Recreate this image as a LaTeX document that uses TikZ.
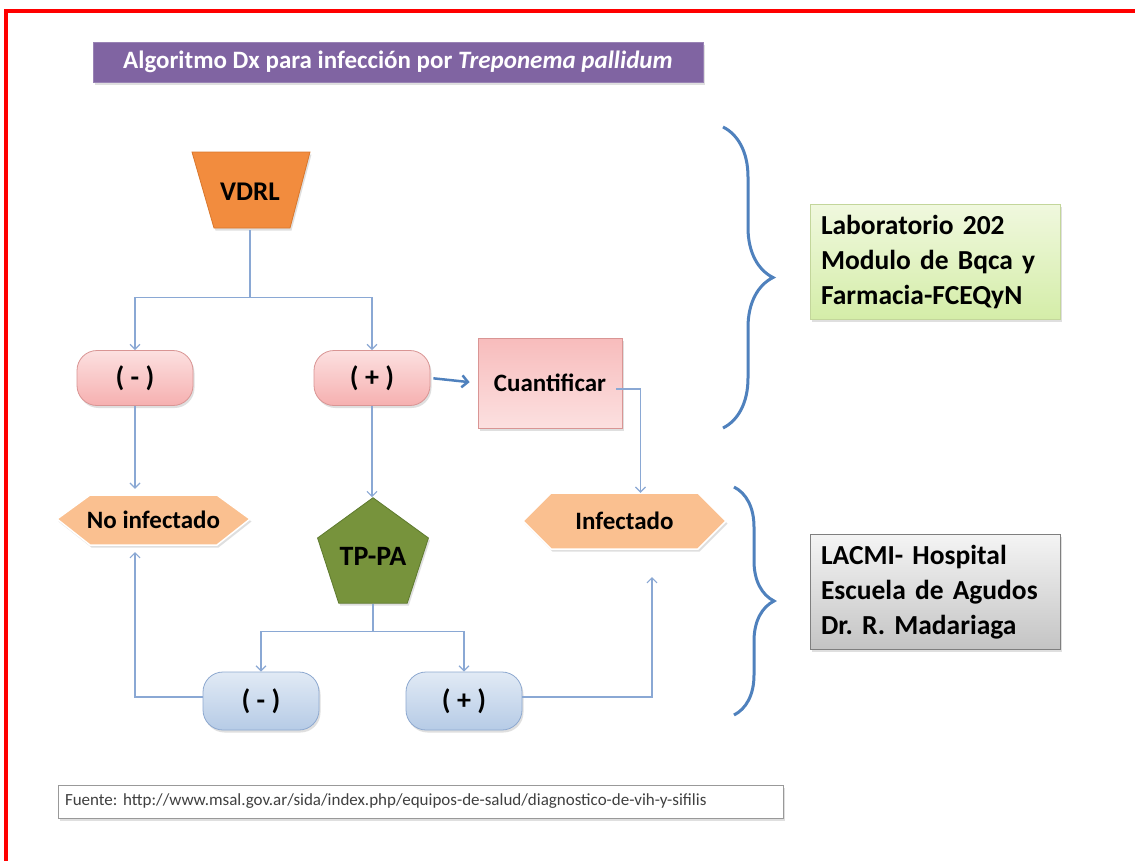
\documentclass[tikz,border=0pt]{standalone}
\usepackage{fontspec}
\setmainfont{Carlito}
\frenchspacing
\usetikzlibrary{arrows.meta,shapes.geometric,shadows,decorations.pathreplacing}
\definecolor{titlepurple}{HTML}{8064A2}
\definecolor{vdrlorange}{HTML}{F28C3E}
\definecolor{vdrlborder}{HTML}{D9772C}
\definecolor{pinktop}{HTML}{FCE0E0}
\definecolor{pinkbot}{HTML}{F6B0B0}
\definecolor{pinkborder}{HTML}{D99594}
\definecolor{peach}{HTML}{FAC090}
\definecolor{tpgreen}{HTML}{77933C}
\definecolor{tpborder}{HTML}{5E7A2E}
\definecolor{bluetop}{HTML}{E1EAF5}
\definecolor{bluebot}{HTML}{B6CBE6}
\definecolor{blueborder}{HTML}{8EA9D0}
\definecolor{conncol}{HTML}{8AA8D4}
\definecolor{bracecol}{HTML}{4F81BD}
\definecolor{labtop}{HTML}{F0F8DE}
\definecolor{labbot}{HTML}{D4EDA8}
\definecolor{labborder}{HTML}{C3D69B}
\definecolor{graytop}{HTML}{F4F4F4}
\definecolor{graybot}{HTML}{C4C4C4}
\definecolor{grayborder}{HTML}{7F7F7F}
\tikzset{
  softshadow/.style={drop shadow={opacity=0.25,shadow xshift=1.5pt,shadow yshift=-2.5pt}},
  titlebox/.style={fill=titlepurple,draw=titlepurple!80!white,line width=0.8pt,text=white,
    font=\fontsize{25}{28}\selectfont\bfseries,softshadow,inner sep=0pt},
  pinkpill/.style={top color=pinktop,bottom color=pinkbot,draw=pinkborder,line width=0.8pt,
    rounded corners=20pt,minimum width=116pt,minimum height=55pt,
    font=\fontsize{28}{30}\selectfont\bfseries,softshadow},
  bluepill/.style={top color=bluetop,bottom color=bluebot,draw=blueborder,line width=0.8pt,
    rounded corners=20pt,minimum width=116pt,minimum height=58pt,
    font=\fontsize{28}{30}\selectfont\bfseries,softshadow},
  cuantbox/.style={top color=pinkbot!85!white,bottom color=pinktop,draw=pinkborder,line width=0.8pt,
    minimum width=144pt,minimum height=90pt,font=\fontsize{25}{28}\selectfont\bfseries,softshadow},
  hexfill/.style={fill=peach,draw=white,line width=1.5pt,softshadow},
  hextext/.style={font=\fontsize{25}{28}\selectfont\bfseries,inner sep=0pt},
  vdrlshape/.style={fill=vdrlorange,draw=vdrlborder,line width=0.8pt,softshadow},
  pent/.style={regular polygon,regular polygon sides=5,minimum size=108pt,inner sep=0pt,
    fill=tpgreen,draw=tpborder,line width=0.8pt,font=\fontsize{28}{30}\selectfont\bfseries,softshadow},
  labbox/.style={top color=labtop,bottom color=labbot,draw=labborder,line width=0.8pt,
    minimum width=250pt,minimum height=115pt,text width=228pt,align=left,inner xsep=11pt,inner ysep=6pt,
    font=\fontsize{27.5}{35}\selectfont\bfseries,softshadow},
  graybox/.style={top color=graytop,bottom color=graybot,draw=grayborder,line width=1pt,
    minimum width=250pt,minimum height=115pt,text width=228pt,align=left,inner xsep=11pt,inner ysep=6pt,
    font=\fontsize{27.5}{35}\selectfont\bfseries,softshadow},
  fuentebox/.style={draw=grayborder!80,line width=1pt,fill=white,minimum width=725pt,minimum height=33pt,
    text width=711pt,align=left,inner xsep=7pt,inner ysep=4pt,text=black!75,font=\fontsize{17}{19}\selectfont,softshadow},
  conn/.style={draw=conncol,line width=1.2pt},
  arr/.style={conn,-{Straight Barb[length=5pt,width=10pt,line width=1.2pt]}},
  thickarr/.style={draw=bracecol,line width=2.5pt,-{Straight Barb[length=6pt,width=12pt,line width=2.5pt]}},
  bracestyle/.style={draw=bracecol,line width=3pt,decorate},
}
\begin{document}
\begin{tikzpicture}[x=1pt,y=-1pt]
\useasboundingbox (0,0) rectangle (1135,860);
\fill[white] (0,0) rectangle (1135,860);
\draw[red,line width=3.5pt] (6,862) -- (6,11) -- (1137,11);

% title
\node[titlebox,minimum width=610pt,minimum height=40pt] (title) at (398,62)
  {Algoritmo Dx para infección por \textit{Treponema pallidum}};

% VDRL
\filldraw[vdrlshape] (192,152) -- (310,152) -- (290,228) -- (214,228) -- cycle;
\node[minimum width=76pt,minimum height=76pt,inner sep=0pt,font=\fontsize{27}{30}\selectfont\bfseries] (vdrl) at (250,192) {VDRL};

% first level
\node[pinkpill] (neg1) at (135,378) {( - )};
\node[pinkpill] (pos1) at (372,378) {( + )};
\node[cuantbox] (cuant) at (550,383) {Cuantificar};

% hexagons
\filldraw[hexfill] (57,519) -- (90,495) -- (217,495) -- (250,519) -- (217,545) -- (90,545) -- cycle;
\node[hextext,minimum width=193pt,minimum height=50pt] (noinf) at (153.5,520) {No infectado};
\filldraw[hexfill] (523,521) -- (551,493) -- (698,493) -- (726,521) -- (698,549) -- (551,549) -- cycle;
\node[hextext,minimum width=203pt,minimum height=56pt] (inf) at (624.5,521) {Infectado};

% TP-PA
\node[pent] (tppa) at (373,556) {TP-PA};

% second level
\node[bluepill] (neg2) at (261,701) {( - )};
\node[bluepill] (pos2) at (464,701) {( + )};

% connectors
\draw[conn] (vdrl.south) -- ++(0,67) coordinate (split1);
\draw[arr] (split1) -| (neg1.north);
\draw[arr] (split1) -| (pos1.north);
\draw[thickarr,shorten <=3pt,shorten >=8pt] (pos1.east) -- (cuant.west);
\draw[arr] ([xshift=-6pt,yshift=-6pt]cuant.east) -| ([xshift=16pt]inf.north);
\draw[arr,shorten >=6pt] (neg1.south) -- (neg1.south |- noinf.north);
\draw[arr] (pos1.south) -- (pos1.south |- tppa.north);
\draw[conn] (tppa.south) -- ++(0,28) coordinate (split2);
\draw[arr] (split2) -| (neg2.north);
\draw[arr] (split2) -| (pos2.north);
\coordinate (noinfin) at (135,552);
\coordinate (infin) at (652,577);
\draw[arr] ([yshift=4pt]neg2.west) -| (noinfin);
\draw[arr] ([yshift=4pt]pos2.east) -| (infin);

% braces
\draw[bracestyle,decoration={brace,amplitude=50pt}] (723,127) -- (723,428);
\draw[bracestyle,decoration={brace,amplitude=40pt}] (734,487) -- (734,715);

% side boxes
\node[labbox] (lab) at (935,262) {Laboratorio 202\\Modulo de Bqca y\\Farmacia-FCEQyN};
\node[graybox] (lacmi) at (935,592) {LACMI- Hospital\\Escuela de Agudos\\Dr. R. Madariaga};

% source
\node[fuentebox] (src) at (420.5,801.5) {Fuente: http://www.msal.gov.ar/sida/index.php/equipos-de-salud/diagnostico-de-vih-y-sifilis};
\end{tikzpicture}
\end{document}
